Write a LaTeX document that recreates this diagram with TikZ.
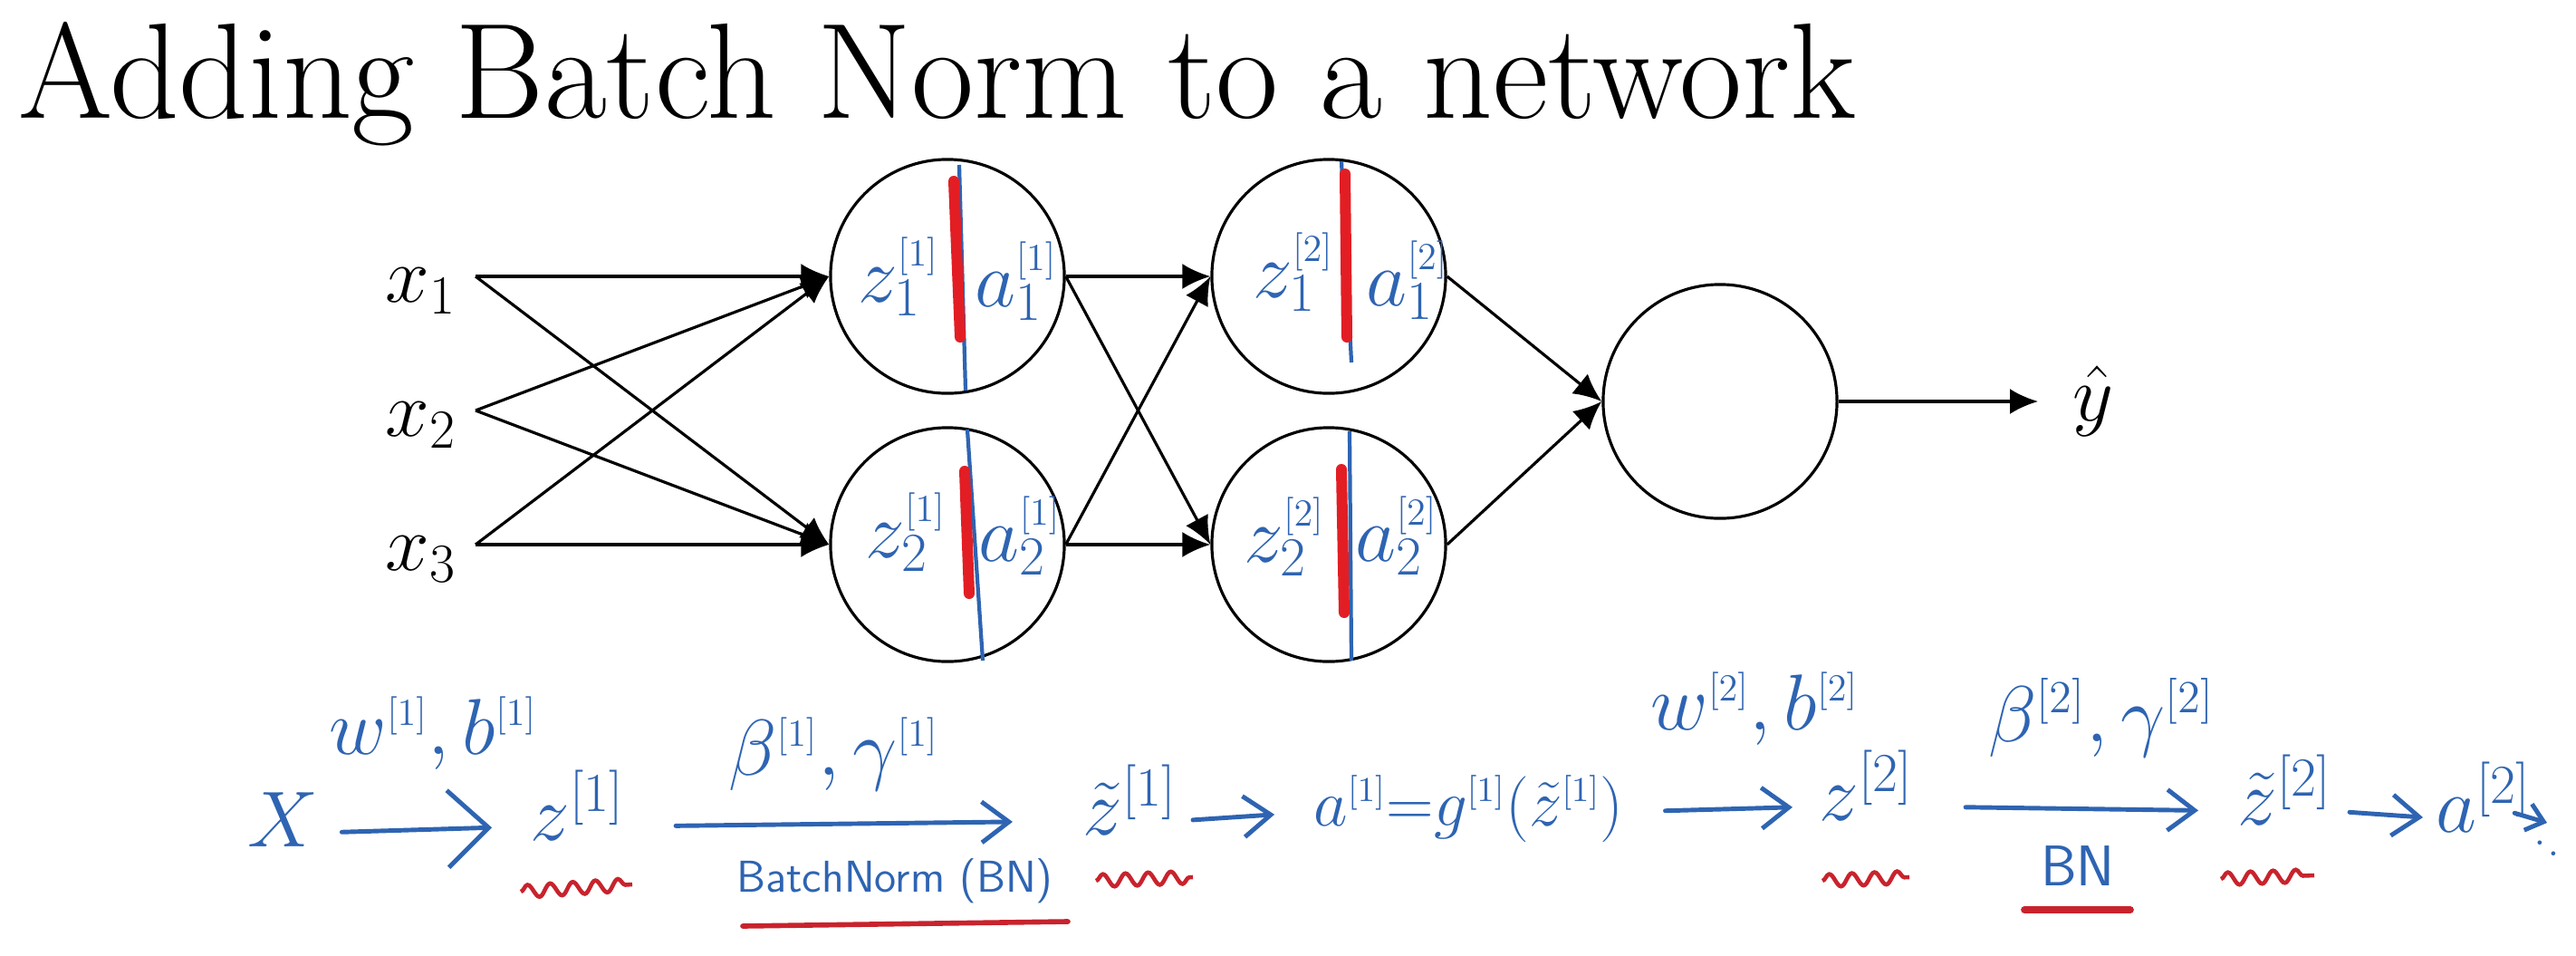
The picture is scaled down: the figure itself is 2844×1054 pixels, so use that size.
\documentclass[tikz,border=0pt]{standalone}
\usetikzlibrary{arrows.meta,decorations.pathmorphing}
\definecolor{hblue}{RGB}{46,100,178}
\definecolor{hred}{RGB}{200,35,45}
\definecolor{sred}{RGB}{226,30,36}
\begin{document}
\begin{tikzpicture}[x=0.01cm, y=-0.01cm,
  neuron/.style={circle, draw, line width=0.9pt, minimum size=2.58cm, inner sep=0pt},
  conn/.style={line width=0.9pt, -{Latex[length=0.31cm,width=0.28cm]}},
  inp/.style={anchor=east, inner xsep=0.2cm, inner ysep=0pt, text height=0.56cm, text depth=0pt, font=\fontsize{26}{30}\selectfont},
  clab/.style={text=hblue, inner sep=0pt, font=\fontsize{24}{28}\selectfont},
  hand/.style={text=hblue, inner sep=0pt, font=\fontsize{24}{28}\selectfont},
  lab/.style={hand, anchor=base west, font=\fontsize{26}{30}\selectfont},
  row/.style={hand, anchor=west, text height=0.4cm, text depth=0.1cm},
  harr/.style={hblue, line width=1.4pt, line cap=round, -{Straight Barb[length=0.3cm,width=0.45cm]}},
  blueline/.style={hblue, line width=1.2pt},
  redstroke/.style={sred, line width=0.12cm, line cap=round},
  squig/.style={hred, line width=1.3pt, decorate, decoration={snake, segment length=0.25cm, amplitude=0.07cm}},
  uline/.style={hred, line width=1.6pt, line cap=round}
]
\fill[white] (0,0) rectangle (2844,1054);
\useasboundingbox (0,0) rectangle (2844,1054);

% title
\node[anchor=base west, inner sep=0pt, font=\fontsize{42.7}{50}\selectfont] (title) at (20,130) {Adding Batch Norm to a network};

% neurons
\node[neuron] (h11) at (1046,305) {};
\node[neuron] (h12) at (1046,601) {};
\node[neuron] (h21) at (1467,305) {};
\node[neuron] (h22) at (1467,601) {};
\node[neuron] (out) at (1899,443) {};

% inputs / output
\node[inp] (x1) at (525,305) {$x_1$};
\node[inp] (x2) at (525,453) {$x_2$};
\node[inp] (x3) at (525,601) {$x_3$};
\node[anchor=west, inner xsep=0.38cm, inner ysep=0pt, font=\fontsize{26}{30}\selectfont] (yhat) at (2250,443) {$\hat{y}$};

% connectors
\foreach \s in {x1,x2,x3}{\foreach \t in {h11,h12}{\draw[conn] (\s.east) -- (\t.west);}}
\foreach \s in {h11,h12}{\foreach \t in {h21,h22}{\draw[conn] (\s.east) -- (\t.west);}}
\draw[conn] (h21.east) -- (out.west);
\draw[conn] (h22.east) -- (out.west);
\draw[conn] (out.east) -- (yhat.west);

% handwritten strokes in the neurons
\draw[blueline] (1059,182) -- (1066,431);
\draw[redstroke] (1053,200) -- (1060,372);
\draw[blueline] (1068,474) -- (1085,729);
\draw[redstroke] (1065,520) -- (1070,655);
\draw[blueline] (1481,178) -- (1492,400);
\draw[redstroke] (1485,192) -- (1487,372);
\draw[blueline] (1490,476) -- (1492,729);
\draw[redstroke] (1481,518) -- (1484,676);

% neuron labels
\node[clab] (l11z) at (992,305) {$z^{\scriptscriptstyle[1]}_{1}$};
\node[clab] (l11a) at (1122,310) {$a^{\scriptscriptstyle[1]}_{1}$};
\node[clab] (l12z) at (1000,587) {$z^{\scriptscriptstyle[1]}_{2}$};
\node[clab] (l12a) at (1126,591) {$a^{\scriptscriptstyle[1]}_{2}$};
\node[clab] (l21z) at (1428,300) {$z^{\scriptscriptstyle[2]}_{1}$};
\node[clab] (l21a) at (1554,309) {$a^{\scriptscriptstyle[2]}_{1}$};
\node[clab] (l22z) at (1418,592) {$z^{\scriptscriptstyle[2]}_{2}$};
\node[clab] (l22a) at (1542,591) {$a^{\scriptscriptstyle[2]}_{2}$};

% handwritten row
\node[row] (X) at (273,919) {$X$};
\node[row] (z1) at (585,912) {$z^{[1]}$};
\node[row] (zt1) at (1195,906) {$\tilde{z}^{[1]}$};
\node[row, font=\fontsize{21}{25}\selectfont] (a1) at (1450,896) {$a^{\scriptscriptstyle[1]}{=}g^{\scriptscriptstyle[1]}(\tilde{z}^{\scriptscriptstyle[1]})$};
\node[row] (z2) at (2008,890) {$z^{[2]}$};
\node[row] (zt2) at (2470,895) {$\tilde{z}^{[2]}$};
\node[row] (a2) at (2689,903) {$a^{[2]}$};
\coordinate (more) at (2812,908);
\node[hand, font=\fontsize{16}{16}\selectfont, rotate=-40] (dots) at (2812,936) {.\kern1.5pt.};

\node[lab] (wb1) at (363,832) {$w^{\scriptscriptstyle[1]},b^{\scriptscriptstyle[1]}$};
\node[lab] (bg1) at (804,855) {$\beta^{\scriptscriptstyle[1]},\gamma^{\scriptscriptstyle[1]}$};
\node[lab] (wb2) at (1822,805) {$w^{\scriptscriptstyle[2]},b^{\scriptscriptstyle[2]}$};
\node[lab, font=\fontsize{27}{30}\selectfont] (bg2) at (2195,818) {$\beta^{\scriptscriptstyle[2]},\gamma^{\scriptscriptstyle[2]}$};
\node[hand, font=\sffamily\fontsize{14}{16}\selectfont] (bn1) at (988,972) {BatchNorm (BN)};
\node[hand, font=\sffamily\fontsize{18}{20}\selectfont] (bn2) at (2294,956) {BN};

\draw[harr, -{Straight Barb[length=0.45cm,width=0.85cm]}, shorten <=0.25cm, shorten >=0.42cm] (X.east) -- (z1.west);
\draw[harr, shorten <=0.56cm, shorten >=0.77cm] (z1.east) -- (zt1.west);
\draw[harr, shorten <=0.17cm, shorten >=0.43cm] (zt1.east) -- (a1.west);
\draw[harr, shorten <=0.45cm, shorten >=0.29cm] (a1.east) -- (z2.west);
\draw[harr, shorten <=0.57cm, shorten >=0.43cm] (z2.east) -- (zt2.west);
\draw[harr, shorten <=0.19cm, shorten >=0.14cm] (zt2.east) -- (a2.west);
\draw[harr, -{Straight Barb[length=0.18cm,width=0.3cm]}, shorten <=-0.2cm] (a2.east) -- (more);

% red marks
\draw[squig] (575,984) -- (698,976);
\draw[squig] (1210,972) -- (1317,968);
\draw[squig] (2012,972) -- (2108,968);
\draw[squig] (2452,970) -- (2555,966);
\draw[uline] (820,1022) -- (1179,1017);
\draw[uline, line width=2.2pt] (2235,1004) -- (2352,1004);
\end{tikzpicture}
\end{document}
